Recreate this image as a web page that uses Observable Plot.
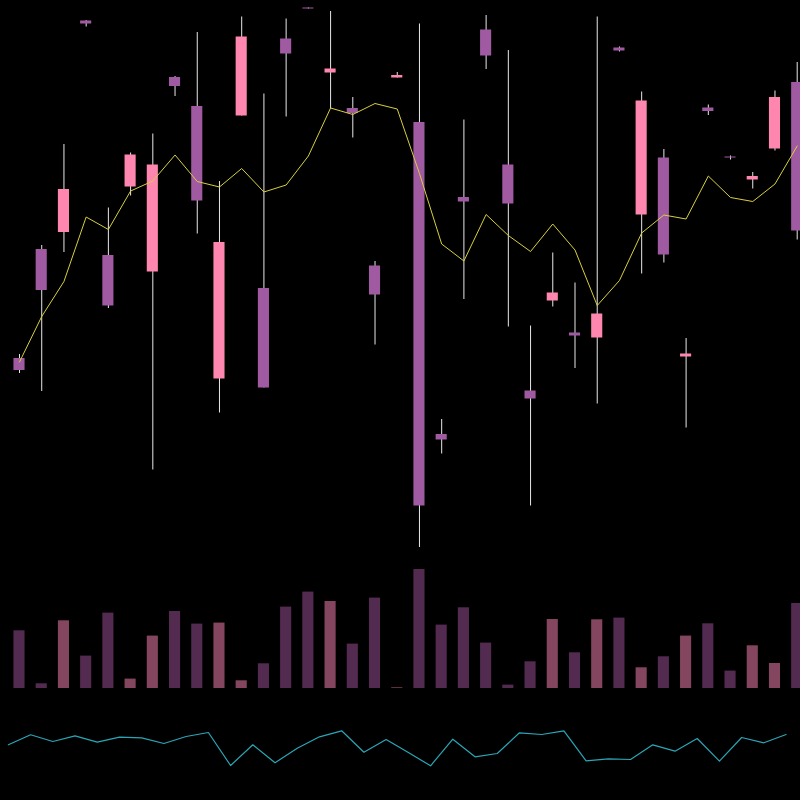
<!DOCTYPE html>
<html>
<head>
<meta charset="utf-8">
<script src="https://cdn.jsdelivr.net/npm/d3@7"></script>
<script src="https://cdn.jsdelivr.net/npm/@observablehq/plot@0.6"></script>
<style>
  html, body { margin: 0; padding: 0; background: #000; }
  #chart { width: 800px; height: 800px; background: #000; overflow: hidden; }
  #chart svg { display: block; }
</style>
</head>
<body>
<div id="chart"></div>
<script>
// ---- data ----
const days = d3.range(36);
const open  = [48.4, 70.2, 73.6, 115.9, 69.0, 82.7, 65.7, 104.6, 98.8, 44.3, 96.9, 62.4, 112.3, 118.5, 105.5, 98.4, 66.9, 104.5, 95.6, 33.2, 80.6, 114.1, 87.1, 41.9, 59.9, 53.5, 52.5, 110.5, 77.1, 88.5, 48.7, 98.5, 88.7, 84.1, 90.3, 103.6];
const close = [46.0, 62.0, 82.2, 115.3, 58.9, 89.1, 87.1, 102.8, 79.9, 71.6, 112.7, 42.5, 109.3, 118.3, 106.3, 97.4, 61.1, 105.0, 18.9, 32.1, 79.7, 108.9, 79.3, 40.3, 61.5, 52.9, 57.3, 109.9, 99.9, 69.1, 49.3, 97.8, 88.5, 84.8, 100.6, 73.9];
const high  = [49.2, 71.0, 91.2, 116.0, 78.5, 89.5, 93.3, 104.8, 113.6, 83.8, 116.7, 101.3, 116.3, 118.5, 117.8, 100.6, 67.8, 105.6, 115.3, 36.2, 96.1, 117.0, 110.0, 54.9, 69.5, 63.5, 116.7, 110.7, 101.7, 90.2, 52.4, 99.1, 88.9, 85.6, 101.9, 107.6];
const low   = [45.4, 41.8, 69.6, 114.7, 58.4, 80.9, 26.1, 100.8, 73.3, 37.5, 96.9, 42.5, 96.7, 118.3, 98.3, 92.5, 51.1, 104.5, 10.6, 29.3, 60.2, 106.2, 54.7, 18.9, 58.7, 46.4, 39.3, 109.7, 65.3, 67.5, 34.5, 97.0, 88.1, 82.3, 89.9, 72.1];
const movingAvg = [47.7, 56.8, 63.8, 76.7, 74.2, 81.9, 83.9, 89.1, 83.8, 82.7, 86.4, 81.7, 83.1, 88.9, 98.5, 97.2, 99.4, 98.3, 85.4, 71.3, 67.9, 77.2, 73.0, 69.8, 75.3, 70.1, 59.0, 64.0, 73.5, 77.1, 76.3, 84.9, 80.6, 79.8, 83.3, 90.9];
const volume = [5770, 470, 6770, 3240, 7540, 940, 5240, 7700, 6440, 6540, 770, 2470, 8140, 9640, 8700, 4440, 9040, 70, 11900, 6340, 8070, 4540, 340, 2670, 6900, 3570, 6870, 7040, 2070, 3170, 5240, 6470, 1740, 4270, 2500, 8500];
const oscillator = [55.7, 65.7, 59.0, 64.7, 58.3, 63.3, 62.7, 57.0, 64.0, 68.0, 35.0, 55.7, 37.7, 52.3, 63.7, 69.7, 48.3, 61.0, 48.0, 34.7, 61.3, 43.7, 47.0, 67.7, 66.0, 69.7, 39.7, 41.7, 41.0, 55.7, 49.3, 62.0, 39.3, 63.0, 57.7, 66.0];

const data = days.map(i => ({
  i,
  open: open[i], close: close[i], high: high[i], low: low[i],
  ma: movingAvg[i], vol: volume[i], osc: oscillator[i],
  dir: close[i] >= open[i] ? "up" : "down"
}));

const xScale = {domain: [0, 35], range: [19, 796.7], axis: null};
const common = {width: 800, marginTop: 0, marginRight: 0, marginBottom: 0, marginLeft: 0,
  style: {background: "#000", overflow: "hidden"}};

const candles = Plot.plot({
  ...common,
  height: 560,
  x: xScale,
  y: {domain: [8, 120], range: [560, 0], axis: null},
  color: {domain: ["up", "down"], range: ["#ff86ae", "#a05aa2"]},
  marks: [
    Plot.ruleX(data, {x: "i", y1: "low", y2: "high", stroke: "#e8e8e8", strokeWidth: 1}),
    Plot.rect(data, {x1: d => d.i - 0.25, x2: d => d.i + 0.25, y1: "open", y2: "close", fill: "dir"}),
    Plot.line(data, {x: "i", y: "ma", stroke: "#d8d040", strokeWidth: 1})
  ]
});

const volumes = Plot.plot({
  ...common,
  height: 140,
  marginBottom: 12,
  x: xScale,
  y: {domain: [0, 12800], axis: null},
  color: {domain: ["up", "down"], range: ["#84465f", "#532a50"]},
  marks: [
    Plot.rect(data, {x1: d => d.i - 0.25, x2: d => d.i + 0.25, y1: 0, y2: "vol", fill: "dir"})
  ]
});

const osc = Plot.plot({
  ...common,
  height: 100,
  x: xScale,
  y: {domain: [0, 100], range: [100, 0], axis: null},
  marks: [
    Plot.line(data, {x: d => d.i - 0.5, y: "osc", stroke: "#2aa6b6", strokeWidth: 1.2})
  ]
});

const root = document.getElementById("chart");
root.append(candles, volumes, osc);
</script>
</body>
</html>
